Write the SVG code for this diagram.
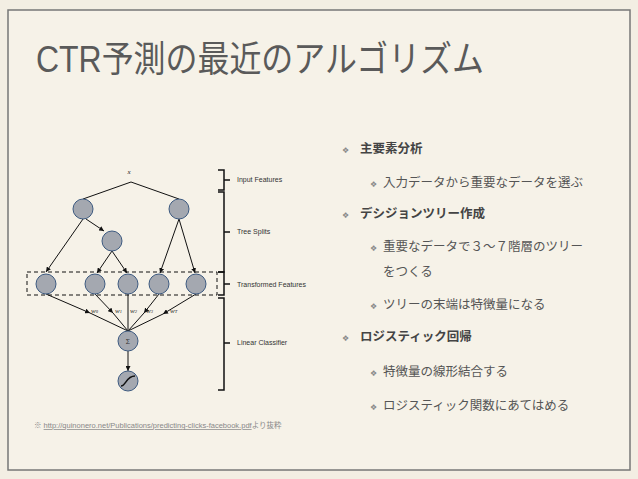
<svg xmlns="http://www.w3.org/2000/svg" width="638" height="479" viewBox="0 0 638 479">
<defs>
<marker id="ah" viewBox="0 0 6 6" refX="6" refY="3" markerWidth="5" markerHeight="5" orient="auto"><path d="M0,0L6,3L0,6z" fill="#111"/></marker>
<style>
.nd{fill:#a4a8b0;stroke:#3d5a80;stroke-width:1}
.ln{stroke:#111;stroke-width:1;fill:none}
.lb{font-family:"Liberation Sans",sans-serif;font-size:7px;fill:#333}
.wl{font-family:"Liberation Serif",serif;font-size:7px;font-style:italic;fill:#222}
.t1{font-family:"Noto Sans CJK JP",sans-serif;font-size:12.5px;font-weight:bold;fill:#444}
.t2{font-family:"Noto Sans CJK JP",sans-serif;font-size:12.5px;fill:#555}
.bu{fill:#888;font-family:"DejaVu Sans",sans-serif;font-size:8px}
</style>
</defs>
<rect width="638" height="479" fill="#f3eee3"/>
<rect x="8" y="10" width="622" height="460" fill="#f6f2e8" stroke="#777" stroke-width="1.5"/>
<text x="36" y="72" textLength="448" lengthAdjust="spacingAndGlyphs" font-family="'Liberation Sans','Noto Sans CJK JP',sans-serif" font-size="36" fill="#5a5a5a">CTR予測の最近のアルゴリズム</text>
<g id="connectors">
<path class="ln" d="M83,199L131,182L179,199"/>
<line class="ln" x1="83" y1="219" x2="46" y2="272" marker-end="url(#ah)"/>
<line class="ln" x1="86" y1="219" x2="104" y2="231" marker-end="url(#ah)"/>
<line class="ln" x1="112" y1="251" x2="97" y2="273" marker-end="url(#ah)"/>
<line class="ln" x1="112" y1="251" x2="127" y2="273" marker-end="url(#ah)"/>
<line class="ln" x1="179" y1="219" x2="160" y2="273" marker-end="url(#ah)"/>
<line class="ln" x1="179" y1="219" x2="195" y2="273" marker-end="url(#ah)"/>
<line class="ln" x1="46" y1="294" x2="90" y2="313" marker-end="url(#ah)"/>
<line class="ln" x1="90" y1="313" x2="128" y2="331"/>
<line class="ln" x1="95" y1="294" x2="113" y2="313" marker-end="url(#ah)"/>
<line class="ln" x1="113" y1="313" x2="128" y2="331"/>
<line class="ln" x1="128" y1="294" x2="128" y2="331" stroke-width="1.5"/>
<line class="ln" x1="159" y1="294" x2="144" y2="313" marker-end="url(#ah)"/>
<line class="ln" x1="144" y1="313" x2="128" y2="331"/>
<line class="ln" x1="196" y1="294" x2="163" y2="314" marker-end="url(#ah)"/>
<line class="ln" x1="163" y1="314" x2="128" y2="331"/>
<line class="ln" x1="128" y1="351" x2="128" y2="371" marker-end="url(#ah)"/>
<rect x="27" y="272" width="190" height="23" fill="none" stroke="#111" stroke-dasharray="4,3"/>
</g>
<g id="n1"><circle class="nd" cx="83" cy="209" r="10"/></g>
<g id="n2"><circle class="nd" cx="179" cy="209" r="10"/></g>
<g id="n3"><circle class="nd" cx="112" cy="241" r="10"/></g>
<g id="l1"><circle class="nd" cx="46" cy="284" r="10"/></g>
<g id="l2"><circle class="nd" cx="95" cy="284" r="10"/></g>
<g id="l3"><circle class="nd" cx="128" cy="284" r="10"/></g>
<g id="l4"><circle class="nd" cx="159" cy="284" r="10"/></g>
<g id="l5"><circle class="nd" cx="196" cy="284" r="10"/></g>
<g id="sum"><circle class="nd" cx="128" cy="341" r="10"/><text x="128" y="344" text-anchor="middle" class="lb">Σ</text></g>
<g id="sig"><circle class="nd" cx="128" cy="381" r="10"/><path d="M121,386C126,386 126,376 135,376" fill="none" stroke="#111" stroke-width="1.5"/></g>
<text x="129" y="174" class="wl" text-anchor="middle">x</text>
<text x="91" y="313" class="wl">w<tspan font-size="4.5">0</tspan></text>
<text x="115" y="313" class="wl">w<tspan font-size="4.5">1</tspan></text>
<text x="130" y="313" class="wl">w<tspan font-size="4.5">2</tspan></text>
<text x="146" y="313" class="wl">w<tspan font-size="4.5">3</tspan></text>
<text x="170" y="313" class="wl">w<tspan font-size="4.5">T</tspan></text>
<g id="brackets" stroke="#111" stroke-width="1.5" fill="none">
<path d="M218,170H224V190H218M224,180H230"/>
<path d="M218,192H224V272H218M224,232H230"/>
<path d="M218,272H224V295H218M224,284H230"/>
<path d="M218,298H224V390H218M224,343H230"/>
</g>
<text x="237" y="182" class="lb">Input Features</text>
<text x="237" y="234" class="lb">Tree Splits</text>
<text x="237" y="287" class="lb">Transformed Features</text>
<text x="237" y="345" class="lb">Linear Classifier</text>
<text x="34" y="428" font-family="'Liberation Sans','Noto Sans CJK JP',sans-serif" font-size="7.5" fill="#888">※ <tspan text-decoration="underline">http://quinonero.net/Publications/predicting-clicks-facebook.pdf</tspan>より抜粋</text>
<g id="bullets">
<text x="342" y="153" class="bu">❖</text><text x="360" y="153" class="t1">主要素分析</text>
<text x="370" y="187" class="bu">❖</text><text x="383" y="187" class="t2">入力データから重要なデータを選ぶ</text>
<text x="342" y="218" class="bu">❖</text><text x="360" y="218" class="t1">デシジョンツリー作成</text>
<text x="370" y="251" class="bu">❖</text><text x="383" y="251" class="t2">重要なデータで３〜７階層のツリー</text>
<text x="383" y="276" class="t2">をつくる</text>
<text x="370" y="309" class="bu">❖</text><text x="383" y="309" class="t2">ツリーの末端は特徴量になる</text>
<text x="342" y="341" class="bu">❖</text><text x="360" y="341" class="t1">ロジスティック回帰</text>
<text x="370" y="376" class="bu">❖</text><text x="383" y="376" class="t2">特徴量の線形結合する</text>
<text x="370" y="410" class="bu">❖</text><text x="383" y="410" class="t2">ロジスティック関数にあてはめる</text>
</g>
</svg>
